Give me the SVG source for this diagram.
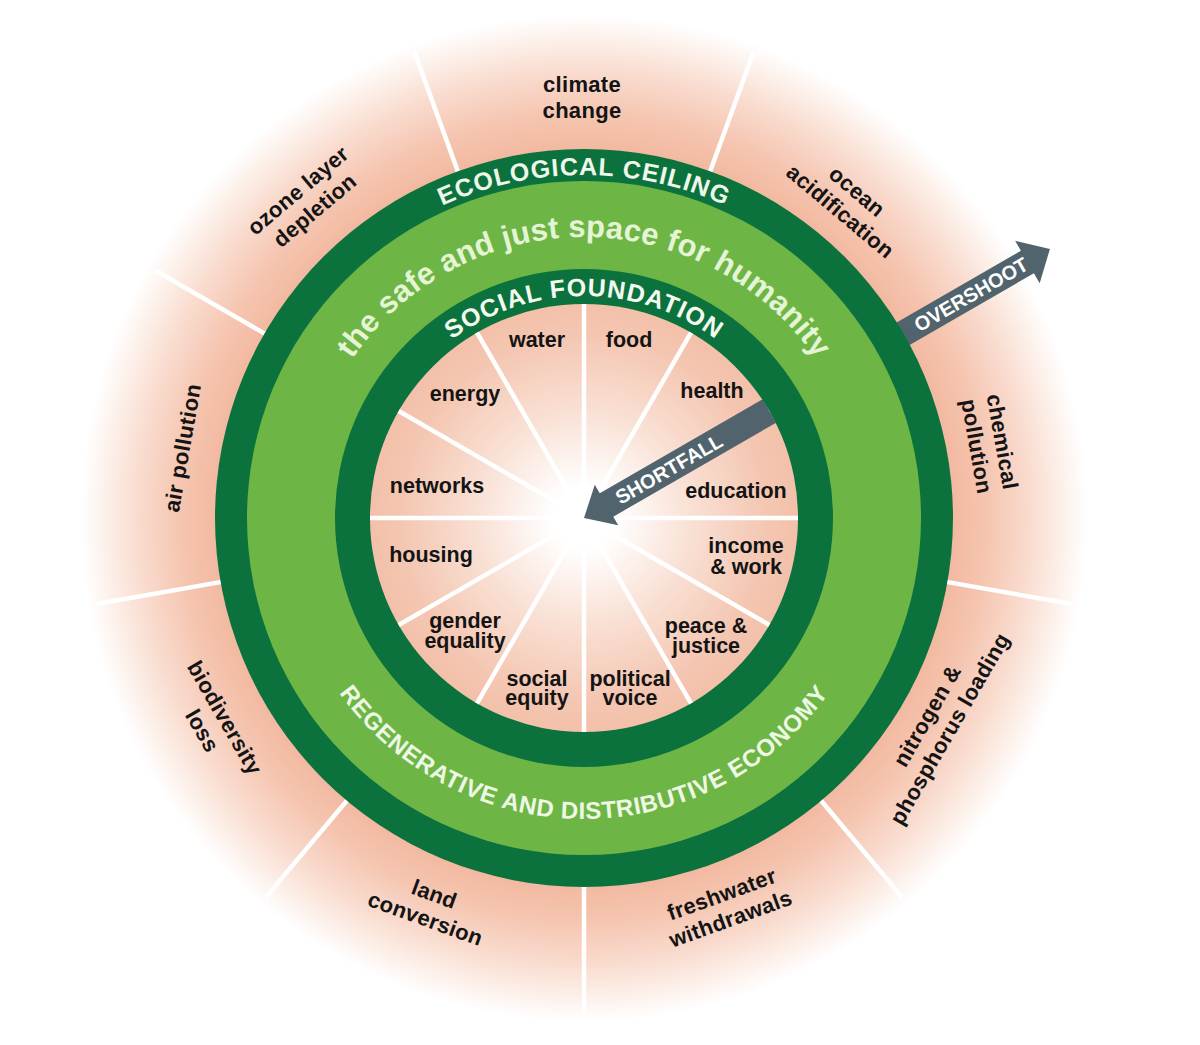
<svg xmlns="http://www.w3.org/2000/svg" width="1200" height="1045" viewBox="0 0 1200 1045">
<defs>
<radialGradient id="outerGrad" gradientUnits="userSpaceOnUse" cx="584" cy="518" r="530">
<stop offset="0.68" stop-color="#f2b69d"/>
<stop offset="0.76" stop-color="#f5c5b0"/>
<stop offset="0.84" stop-color="#f9dbce"/>
<stop offset="0.9" stop-color="#fcefe8"/>
<stop offset="0.95" stop-color="#ffffff"/>
<stop offset="1" stop-color="#ffffff"/>
</radialGradient>
<radialGradient id="innerGrad" gradientUnits="userSpaceOnUse" cx="584" cy="518" r="216">
<stop offset="0" stop-color="#ffffff"/>
<stop offset="0.14" stop-color="#ffffff"/>
<stop offset="0.5" stop-color="#f9e0d4"/>
<stop offset="0.85" stop-color="#f4c6b1"/>
<stop offset="1" stop-color="#f3c0a9"/>
</radialGradient>
<path id="arcEco" d="M 241 518 A 343 343 0 0 1 927 518"/>
<path id="arcSafe" d="M 303 518 A 281 281 0 0 1 865 518"/>
<path id="arcSocial" d="M 362 518 A 222 222 0 0 1 806 518"/>
<path id="arcRegen" d="M 283 518 A 301 301 0 0 0 885 518"/>
</defs>
<style>
.lbl{font-family:"Liberation Sans",Arial,sans-serif;font-weight:bold;fill:#141414;text-anchor:middle}
.outer{font-size:22px;letter-spacing:0.3px}
.inner{font-size:21.5px}
.div{stroke:#ffffff;stroke-width:4.5}
.ring{font-family:"Liberation Sans",Arial,sans-serif;font-weight:bold;text-anchor:middle}
.arrow{fill:#51646e}
.atext{font-family:"Liberation Sans",Arial,sans-serif;font-weight:bold;font-size:20px;fill:#ffffff;text-anchor:middle}
.dark{fill:#0c723d}
.light{fill:#6db646}
</style>
<rect width="1200" height="1045" fill="#ffffff"/>
<g id="backdrop">
<circle cx="584" cy="518" r="530" fill="url(#outerGrad)"/>
</g>
<g id="connectors">
<g id="outer-dividers" transform="translate(584,518)">
<line class="div" x1="0" y1="-355" x2="0" y2="-495" transform="rotate(20)"/>
<line class="div" x1="0" y1="-355" x2="0" y2="-495" transform="rotate(60)"/>
<line class="div" x1="0" y1="-355" x2="0" y2="-495" transform="rotate(100)"/>
<line class="div" x1="0" y1="-355" x2="0" y2="-495" transform="rotate(140)"/>
<line class="div" x1="0" y1="-355" x2="0" y2="-495" transform="rotate(180)"/>
<line class="div" x1="0" y1="-355" x2="0" y2="-495" transform="rotate(220)"/>
<line class="div" x1="0" y1="-355" x2="0" y2="-495" transform="rotate(260)"/>
<line class="div" x1="0" y1="-355" x2="0" y2="-495" transform="rotate(300)"/>
<line class="div" x1="0" y1="-355" x2="0" y2="-495" transform="rotate(340)"/>
</g>
<polygon id="overshoot-arrow" class="arrow" transform="translate(584,518) rotate(-30)" points="355,-13 512,-13 512,-24.5 538,0 512,24.5 512,13 355,13"/>
</g>
<g id="doughnut">
<circle class="dark" cx="584" cy="518" r="369"/>
<circle class="light" cx="584" cy="518" r="337"/>
<circle class="dark" cx="584" cy="518" r="249"/>
<circle cx="584" cy="518" r="214" fill="url(#innerGrad)"/>
</g>
<g id="inner-dividers" transform="translate(584,518)">
<line class="div" x1="0" y1="-12" x2="0" y2="-214" transform="rotate(0)"/>
<line class="div" x1="0" y1="-12" x2="0" y2="-214" transform="rotate(30)"/>
<line class="div" x1="0" y1="-12" x2="0" y2="-214" transform="rotate(60)"/>
<line class="div" x1="0" y1="-12" x2="0" y2="-214" transform="rotate(90)"/>
<line class="div" x1="0" y1="-12" x2="0" y2="-214" transform="rotate(120)"/>
<line class="div" x1="0" y1="-12" x2="0" y2="-214" transform="rotate(150)"/>
<line class="div" x1="0" y1="-12" x2="0" y2="-214" transform="rotate(180)"/>
<line class="div" x1="0" y1="-12" x2="0" y2="-214" transform="rotate(210)"/>
<line class="div" x1="0" y1="-12" x2="0" y2="-214" transform="rotate(240)"/>
<line class="div" x1="0" y1="-12" x2="0" y2="-214" transform="rotate(270)"/>
<line class="div" x1="0" y1="-12" x2="0" y2="-214" transform="rotate(300)"/>
<line class="div" x1="0" y1="-12" x2="0" y2="-214" transform="rotate(330)"/>
</g>
<polygon id="shortfall-arrow" class="arrow" transform="translate(584,518) rotate(-30)" points="0,0 26,-23.5 26,-13.5 214,-13.5 214,13.5 26,13.5 26,23.5"/>
<g id="ring-labels">
<text class="ring" font-size="25" fill="#eef7ea" letter-spacing="1"><textPath href="#arcEco" startOffset="50%">ECOLOGICAL CEILING</textPath></text>
<text class="ring" font-size="31" fill="#e4f4d4" letter-spacing="0.2"><textPath href="#arcSafe" startOffset="50%">the safe and just space for humanity</textPath></text>
<text class="ring" font-size="25" fill="#f4faf0" letter-spacing="1"><textPath href="#arcSocial" startOffset="50%">SOCIAL FOUNDATION</textPath></text>
<text class="ring" font-size="24" fill="#eef8e4" letter-spacing="0.6"><textPath href="#arcRegen" startOffset="50%">REGENERATIVE AND DISTRIBUTIVE ECONOMY</textPath></text>
</g>
<g id="ecological-labels">
<g id="climate-change" transform="translate(582,97)"><text class="lbl outer"><tspan x="0" y="-5">climate</tspan><tspan x="0" y="21">change</tspan></text></g>
<g id="ocean-acidification" transform="translate(849,201) rotate(40)"><text class="lbl outer"><tspan x="0" y="-5">ocean</tspan><tspan x="0" y="21">acidification</tspan></text></g>
<g id="chemical-pollution" transform="translate(990,444) rotate(80)"><text class="lbl outer"><tspan x="0" y="-5">chemical</tspan><tspan x="0" y="21">pollution</tspan></text></g>
<g id="nitrogen-phosphorus" transform="translate(938,722) rotate(-60)"><text class="lbl outer"><tspan x="0" y="-5">nitrogen &amp;</tspan><tspan x="0" y="21">phosphorus loading</tspan></text></g>
<g id="freshwater-withdrawals" transform="translate(726,906) rotate(-20)"><text class="lbl outer"><tspan x="0" y="-5">freshwater</tspan><tspan x="0" y="21">withdrawals</tspan></text></g>
<g id="land-conversion" transform="translate(430,906) rotate(20)"><text class="lbl outer"><tspan x="0" y="-5">land</tspan><tspan x="0" y="21">conversion</tspan></text></g>
<g id="biodiversity-loss" transform="translate(214,724) rotate(60)"><text class="lbl outer"><tspan x="0" y="-5">biodiversity</tspan><tspan x="0" y="21">loss</tspan></text></g>
<g id="air-pollution" transform="translate(183,448) rotate(-80)"><text class="lbl outer" x="0" y="7">air pollution</text></g>
<g id="ozone-depletion" transform="translate(306,200) rotate(-40)"><text class="lbl outer"><tspan x="0" y="-5">ozone layer</tspan><tspan x="0" y="21">depletion</tspan></text></g>
</g>
<g id="social-labels">
<g id="water"><text class="lbl inner" x="537" y="347">water</text></g>
<g id="food"><text class="lbl inner" x="629" y="347">food</text></g>
<g id="health"><text class="lbl inner" x="712" y="398">health</text></g>
<g id="education"><text class="lbl inner" x="736" y="498">education</text></g>
<g id="income-work"><text class="lbl inner"><tspan x="746" y="553">income</tspan><tspan x="746" y="574">&amp; work</tspan></text></g>
<g id="peace-justice"><text class="lbl inner"><tspan x="706" y="633">peace &amp;</tspan><tspan x="706" y="653">justice</tspan></text></g>
<g id="political-voice"><text class="lbl inner"><tspan x="630" y="686">political</tspan><tspan x="630" y="705">voice</tspan></text></g>
<g id="social-equity"><text class="lbl inner"><tspan x="537" y="686">social</tspan><tspan x="537" y="705">equity</tspan></text></g>
<g id="gender-equality"><text class="lbl inner"><tspan x="465" y="628">gender</tspan><tspan x="465" y="648">equality</tspan></text></g>
<g id="housing"><text class="lbl inner" x="431" y="562">housing</text></g>
<g id="networks"><text class="lbl inner" x="437" y="493">networks</text></g>
<g id="energy"><text class="lbl inner" x="465" y="401">energy</text></g>
</g>
<g id="arrow-labels" transform="translate(584,518) rotate(-30)">
<text class="atext" x="447" y="7">OVERSHOOT</text>
<text class="atext" x="98" y="7">SHORTFALL</text>
</g>
</svg>
